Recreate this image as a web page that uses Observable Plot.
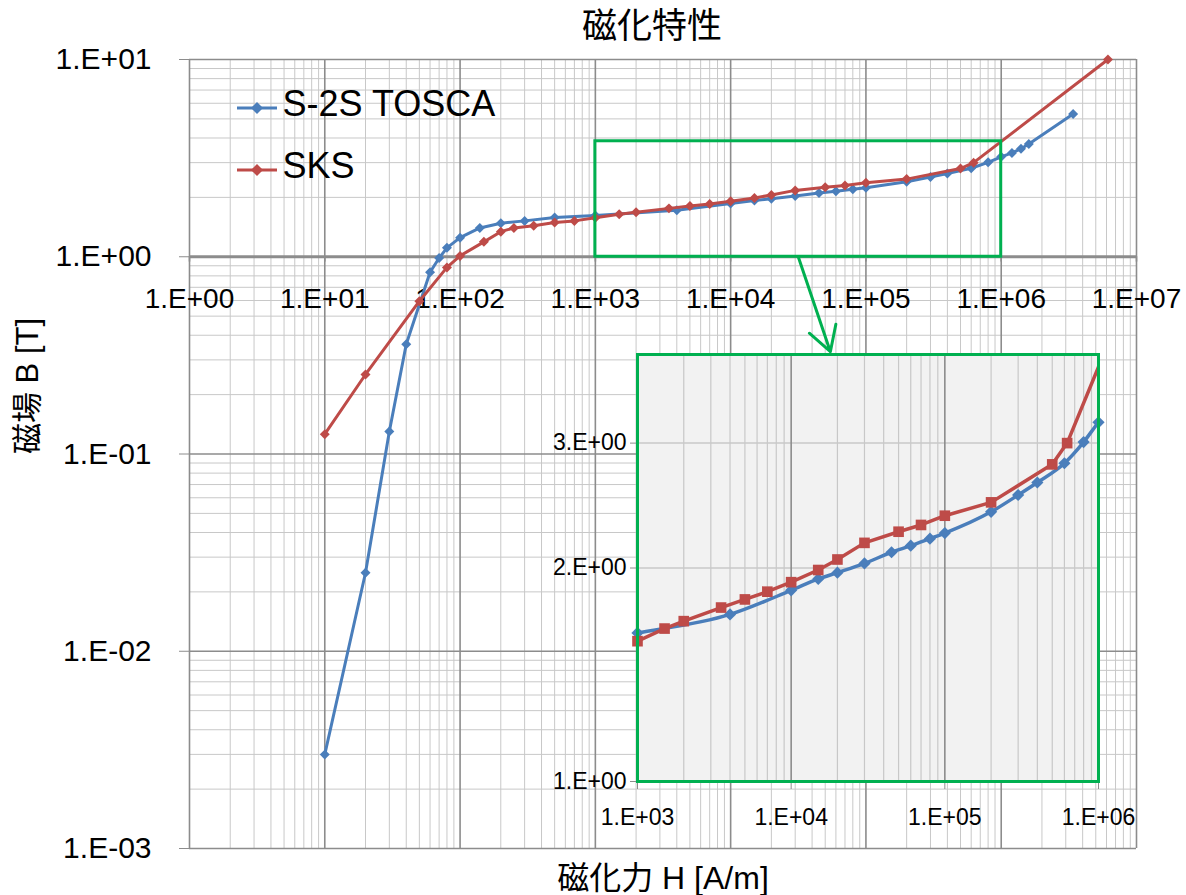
<!DOCTYPE html>
<html><head><meta charset="utf-8">
<script src="https://cdn.jsdelivr.net/npm/d3@7"></script>
<script src="https://cdn.jsdelivr.net/npm/@observablehq/plot@0.6"></script>
<style>
body{margin:0;background:#fff;}
#wrap{position:relative;width:1186px;height:895px;}
#wrap > svg, #wrap > div{position:absolute;}
</style></head><body><div id="wrap"></div>
<script>
// ---- data ----
const toscaH = [10,20,30,40,60,70,80,100,140,200,300,500,1000,4000,10000,15000,20000,30000,45000,60000,80000,1e5,2e5,3e5,4e5,6e5,8e5,1e6,1.2e6,1.4e6,1.6e6,3.4e6];
const toscaB = [0.003,0.025,0.13,0.36,0.835,0.985,1.11,1.25,1.40,1.48,1.52,1.58,1.62,1.72,1.86,1.93,1.97,2.03,2.105,2.15,2.20,2.24,2.40,2.535,2.64,2.81,3.01,3.21,3.36,3.53,3.73,5.3];
const sksH = [10,20,50,80,100,150,200,250,350,500,700,1000,1500,2000,3500,5000,7000,10000,15000,20000,30000,50000,70000,1e5,2e5,5e5,6.25e5,6.15e6];
const sksB = [0.126,0.253,0.595,0.883,1.01,1.19,1.34,1.40,1.435,1.49,1.52,1.577,1.643,1.683,1.759,1.806,1.852,1.91,1.987,2.056,2.17,2.25,2.30,2.37,2.475,2.80,3.0,10];
const seriesNames = ["S-2S TOSCA", "SKS"];
const xMajor = [1,1e1,1e2,1e3,1e4,1e5,1e6,1e7];
const yMajor = [1e-3,1e-2,1e-1,1,10];
const insetXMajor = [1e3,1e4,1e5,1e6];
const insetYTicks = [1,2,3];
const zoomBox = {x1: 1e3, x2: 1e6, y1: 1, y2: 3.85};
const insetDomainY = [1, 4];
const callout = [{x1: 31600, y1: 1, x2: 54600, y2: 0.33}];
const titleText = "磁化特性";
const xTitle = "磁化力 H [A/m]";
const yTitle = "磁場 B [T]";

const BLUE = "#4A7EBB", RED = "#BE4B48", GREEN = "#00B050";
const GMAJ = "#8c8c8c", GMIN = "#c8c8c8";
const FONT = "'Liberation Sans', Arial, 'Noto Sans CJK JP', sans-serif";

const tosca = toscaH.map((h,i)=>({H:h,B:toscaB[i]}));
const sks = sksH.map((h,i)=>({H:h,B:sksB[i]}));
const expFmt = d => { const e = Math.round(Math.log10(d)); return "1.E" + (e>=0?"+":"-") + String(Math.abs(e)).padStart(2,"0"); };

const xMinor = d3.scaleLog().domain([1,1e7]).ticks().filter(v => !xMajor.includes(v));
const yMinor = d3.scaleLog().domain([1e-3,10]).ticks().filter(v => !yMajor.some(m => Math.abs(m-v)/v < 1e-9));

const main = Plot.plot({
  width: 1186, height: 895,
  marginLeft: 189, marginRight: 50, marginTop: 59, marginBottom: 47,
  style: {fontFamily: FONT, background: "transparent", color: "#000"},
  x: {type: "log", domain: [1,1e7], axis: null},
  y: {type: "log", domain: [1e-3,10], axis: null},
  marks: [
    Plot.ruleX(xMinor, {stroke: GMIN, strokeWidth: 1}),
    Plot.ruleY(yMinor, {stroke: GMIN, strokeWidth: 1}),
    Plot.ruleX(xMajor, {stroke: GMAJ, strokeWidth: 1.6}),
    Plot.ruleY(yMajor, {stroke: GMAJ, strokeWidth: 1.6}),
    Plot.ruleY([1], {stroke: GMAJ, strokeWidth: 3}),
    Plot.ruleX(xMajor, {y1: 1, y2: 0.94, stroke: GMAJ, strokeWidth: 1.6}),
    Plot.axisY({ticks: yMajor, tickFormat: expFmt, tickSize: 10, tickPadding: 28, fontSize: 30, stroke: GMAJ, label: null}),
    Plot.text(xMajor, {x: d=>d, y: 1, text: expFmt, dy: 42, fontSize: 28}),
    Plot.line(tosca, {x: "H", y: "B", stroke: BLUE, strokeWidth: 3}),
    Plot.dot(tosca, {x: "H", y: "B", symbol: "diamond2", fill: BLUE, r: 4.5}),
    Plot.line(sks, {x: "H", y: "B", stroke: RED, strokeWidth: 3}),
    Plot.dot(sks, {x: "H", y: "B", symbol: "diamond2", fill: RED, r: 4.5}),
    Plot.rect([zoomBox], {x1: "x1", x2: "x2", y1: "y1", y2: "y2", stroke: GREEN, strokeWidth: 3, fill: "none"}),
    Plot.arrow(callout, {x1: "x1", y1: "y1", x2: "x2", y2: "y2", stroke: GREEN, strokeWidth: 3, headLength: 14}),
    Plot.text([seriesNames[0]], {frameAnchor: "top-left", dx: 93, dy: 31, fontSize: 36, textAnchor: "start"}),
    Plot.text([seriesNames[1]], {frameAnchor: "top-left", dx: 93, dy: 93, fontSize: 36, textAnchor: "start"}),
    Plot.text([titleText], {frameAnchor: "top", dy: -46, dx: -11, fontSize: 35}),
    Plot.text([xTitle], {frameAnchor: "bottom", dy: 40, fontSize: 32}),
    Plot.text([yTitle], {frameAnchor: "left", dx: -161, rotate: -90, fontSize: 31})
  ]
});
main.style.left = "0px"; main.style.top = "0px";
document.getElementById("wrap").appendChild(main);

// legend samples
const ns = "http://www.w3.org/2000/svg";
const leg = document.createElementNS(ns, "svg");
leg.setAttribute("width", 60); leg.setAttribute("height", 100);
leg.style.left = "230px"; leg.style.top = "90px";
[[BLUE, 18],[RED, 80]].forEach(([c, y]) => {
  const l = document.createElementNS(ns, "line");
  l.setAttribute("x1", 7); l.setAttribute("x2", 47); l.setAttribute("y1", y); l.setAttribute("y2", y);
  l.setAttribute("stroke", c); l.setAttribute("stroke-width", 3);
  leg.appendChild(l);
  const p = document.createElementNS(ns, "path");
  p.setAttribute("d", `M27,${y-6}L33,${y}L27,${y+6}L21,${y}Z`);
  p.setAttribute("fill", c);
  leg.appendChild(p);
});
document.getElementById("wrap").appendChild(leg);

// inset
const inToscaDots = tosca.filter(d => d.H >= 1e3 && d.H <= 1e6);
const inSksDots = sks.filter(d => d.H >= 1e3 && d.H <= 1e6);
const ixMinor = d3.scaleLog().domain([1e3,1e6]).ticks().filter(v => !insetXMajor.includes(v));
const inset = Plot.plot({
  width: 595, height: 479,
  marginLeft: 90, marginRight: 44, marginTop: 2, marginBottom: 50,
  style: {fontFamily: FONT, background: "transparent", color: "#000"},
  x: {type: "log", domain: [1e3,1e6], axis: null},
  y: {type: "log", domain: insetDomainY, axis: null},
  marks: [
    Plot.frame({fill: "#F2F2F2", stroke: "none"}),
    Plot.ruleX(ixMinor, {stroke: GMIN, strokeWidth: 1.2}),
    Plot.ruleY(insetYTicks.slice(1), {stroke: GMIN, strokeWidth: 1.5}),
    Plot.ruleX(insetXMajor, {stroke: GMAJ, strokeWidth: 1.6}),
    Plot.axisX({ticks: insetXMajor, tickFormat: expFmt, tickSize: 8, tickPadding: 19, fontSize: 23, stroke: GMAJ, label: null}),
    Plot.axisY({ticks: insetYTicks, tickFormat: d => `${d}.E+00`, tickSize: 7, tickPadding: 4, fontSize: 23, stroke: GMAJ, label: null}),
    Plot.line(tosca, {x: "H", y: "B", stroke: BLUE, strokeWidth: 3.5, curve: "monotone-x", clip: true}),
    Plot.dot(inToscaDots, {x: "H", y: "B", symbol: "diamond2", fill: BLUE, r: 5.5}),
    Plot.line(sks, {x: "H", y: "B", stroke: RED, strokeWidth: 3.5, clip: true}),
    Plot.dot(inSksDots, {x: "H", y: "B", symbol: "square", fill: RED, r: 6}),
    Plot.frame({stroke: GREEN, strokeWidth: 3})
  ]
});
inset.style.left = "547px"; inset.style.top = "352px";
document.getElementById("wrap").appendChild(inset);
</script></body></html>
